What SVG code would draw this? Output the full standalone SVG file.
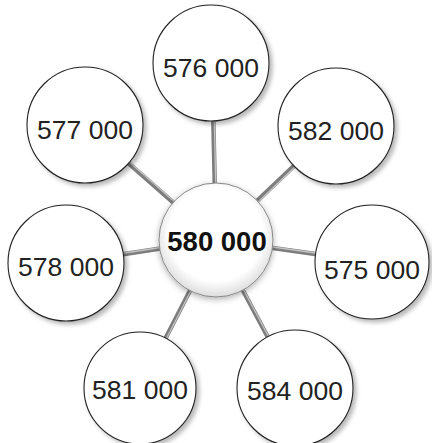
<svg xmlns="http://www.w3.org/2000/svg" width="432" height="443" viewBox="0 0 432 443">
<defs>
<filter id="sh" x="-20%" y="-20%" width="150%" height="150%">
<feDropShadow dx="3" dy="3" stdDeviation="2" flood-color="#000" flood-opacity="0.28"/>
</filter>
<filter id="shc" x="-20%" y="-20%" width="150%" height="150%">
<feDropShadow dx="0" dy="2" stdDeviation="3" flood-color="#000" flood-opacity="0.3"/>
</filter>
<radialGradient id="cg" cx="50%" cy="45%" r="55%">
<stop offset="0.75" stop-color="#ffffff"/>
<stop offset="1" stop-color="#dcdcdc"/>
</radialGradient>
</defs>
<style>
.n{fill:#fff;stroke:#222;stroke-width:1.1;filter:url(#sh)}
.c{fill:url(#cg);stroke:#888;stroke-width:1;filter:url(#shc)}
.t{font-family:"Liberation Sans",Arial,sans-serif;font-size:26.5px;fill:#222;text-anchor:middle;dominant-baseline:central}
.tb{font-weight:bold;fill:#111;font-size:27.5px}
.l{stroke:#7d7d7d;stroke-width:4.5;stroke-linecap:butt}
.h{stroke:#c4c4c4;stroke-width:1.3}
</style>
<rect width="432" height="443" fill="#fff"/>
<g id="connectors">
<line class="l" x1="216" y1="240" x2="212" y2="62"/>
<line class="l" x1="216" y1="240" x2="85" y2="125"/>
<line class="l" x1="216" y1="240" x2="336" y2="126"/>
<line class="l" x1="216" y1="240" x2="66" y2="263"/>
<line class="l" x1="216" y1="240" x2="372" y2="262"/>
<line class="l" x1="216" y1="240" x2="140" y2="388"/>
<line class="l" x1="216" y1="240" x2="295" y2="388"/>
<line class="h" x1="217" y1="240" x2="213" y2="62"/>
<line class="h" x1="217" y1="239" x2="86" y2="124"/>
<line class="h" x1="217" y1="241" x2="337" y2="127"/>
<line class="h" x1="216" y1="239" x2="66" y2="262"/>
<line class="h" x1="216" y1="239" x2="372" y2="261"/>
<line class="h" x1="217" y1="240" x2="141" y2="388"/>
<line class="h" x1="217" y1="240" x2="296" y2="388"/>
</g>
<g id="n576"><circle class="n" cx="211" cy="63" r="58"/><text class="t" x="211" y="68">576 000</text></g>
<g id="n577"><circle class="n" cx="85" cy="125" r="58"/><text class="t" x="85" y="130">577 000</text></g>
<g id="n582"><circle class="n" cx="336" cy="126" r="58"/><text class="t" x="336" y="131">582 000</text></g>
<g id="n578"><circle class="n" cx="66" cy="263" r="58"/><text class="t" x="66" y="267">578 000</text></g>
<g id="n575"><circle class="n" cx="372" cy="262" r="57"/><text class="t" x="372" y="270">575 000</text></g>
<g id="n581"><circle class="n" cx="140" cy="388" r="56"/><text class="t" x="140" y="390">581 000</text></g>
<g id="n584"><circle class="n" cx="295" cy="388" r="58"/><text class="t" x="295" y="391">584 000</text></g>
<g id="n580"><circle class="c" cx="216" cy="240" r="57"/><text class="t tb" x="217" y="241">580 000</text></g>
</svg>
